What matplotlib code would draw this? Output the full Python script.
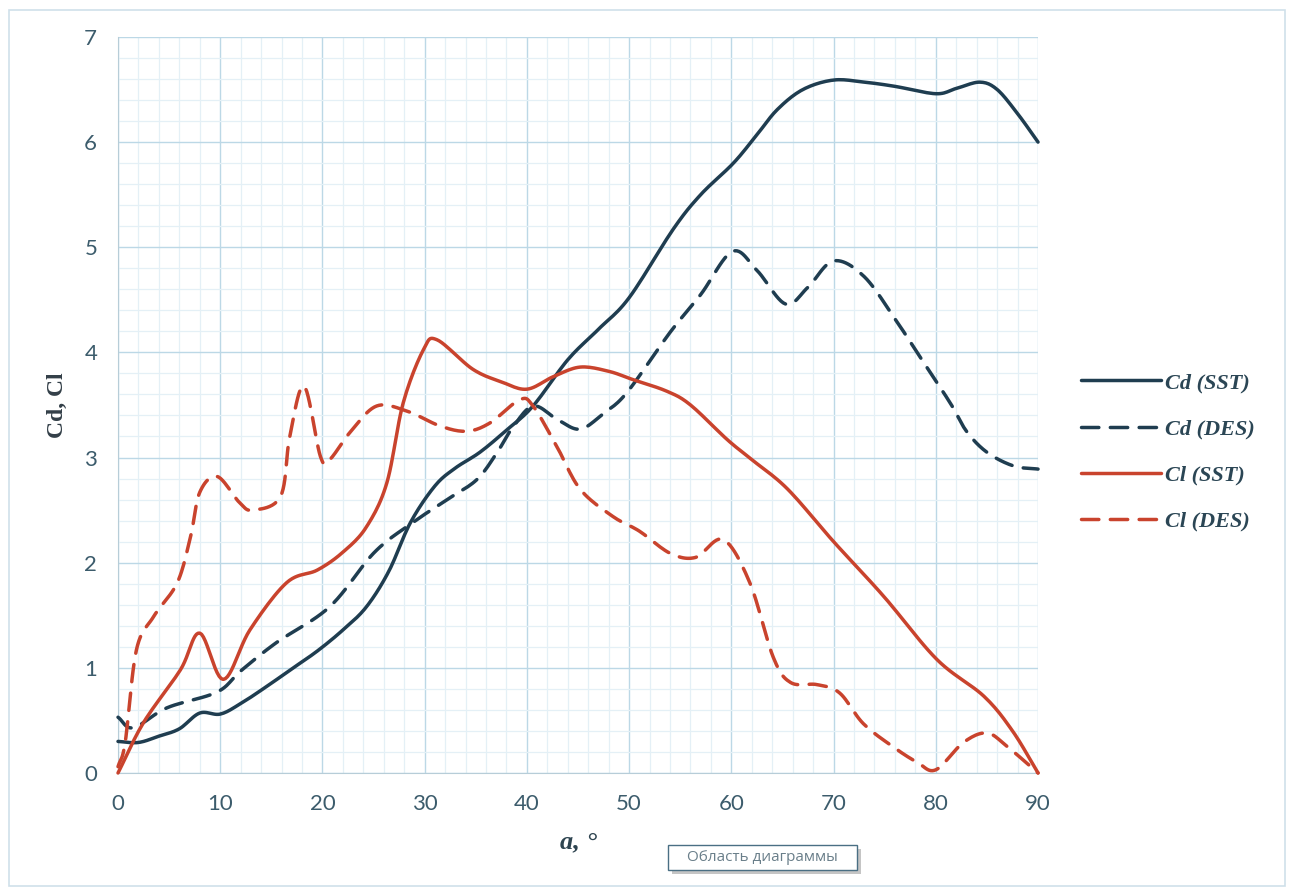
import numpy as np
import matplotlib
matplotlib.use("Agg")
import matplotlib.pyplot as plt
from matplotlib.ticker import MultipleLocator
from matplotlib.patches import Rectangle

# --- data (angle of attack, deg) ---
a_cd_sst = [0, 2, 4, 6, 8, 10, 12, 14.5, 17, 19.5, 22, 24.3, 26.5, 28.6, 31, 33, 35.4, 38, 40.6,
            44, 47, 50, 54.3, 57, 60.2, 62.5, 64.5, 67, 70, 73, 76, 80, 82, 84.3, 86, 88, 90]
cd_sst = [0.30, 0.29, 0.35, 0.42, 0.57, 0.56, 0.66, 0.82, 0.99, 1.16, 1.36, 1.58, 1.92, 2.38, 2.73,
          2.90, 3.05, 3.26, 3.49, 3.93, 4.22, 4.52, 5.17, 5.50, 5.80, 6.07, 6.31, 6.50, 6.59,
          6.57, 6.53, 6.46, 6.51, 6.57, 6.50, 6.27, 6.00]

a_cd_des = [0, 1.5, 4.8, 9.7, 12, 15.5, 20.7, 25, 28.5, 32.2, 35.1, 37.1, 38.5, 40.6, 43, 45.2,
            47.5, 49.8, 54, 57, 60.1, 62.5, 65.3, 67.5, 70, 73, 76.2, 78.5, 81.4, 83, 85, 87.6, 90]
cd_des = [0.53, 0.43, 0.62, 0.77, 0.97, 1.24, 1.58, 2.09, 2.36, 2.60, 2.79, 3.05, 3.27, 3.49, 3.36,
          3.27, 3.42, 3.62, 4.19, 4.55, 4.96, 4.78, 4.46, 4.62, 4.87, 4.72, 4.29, 3.95, 3.52, 3.25,
          3.05, 2.92, 2.89]

a_cl_sst = [0, 2.5, 6.1, 8, 10.3, 12.9, 16.5, 19.5, 22, 24.3, 26.3, 27.9, 29.9, 31.2, 34.7, 37.5,
            40, 42.6, 45.2, 48, 50.4, 53.7, 56, 59.6, 62, 65.5, 70, 74.9, 80.1, 84.7, 87.5, 90]
cl_sst = [0.0, 0.48, 0.98, 1.33, 0.89, 1.36, 1.81, 1.93, 2.10, 2.34, 2.76, 3.52, 4.03, 4.12, 3.84,
          3.72, 3.65, 3.77, 3.86, 3.82, 3.74, 3.63, 3.50, 3.17, 2.98, 2.70, 2.20, 1.68, 1.08,
          0.73, 0.40, 0.0]

a_cl_des = [0, 0.7, 1.8, 3.5, 5.8, 7.1, 8, 9.7, 11.9, 13.2, 15.9, 16.8, 18.2, 19.8, 20.7, 22.7,
            25.3, 28.3, 31.5, 34.1, 36.4, 39.3, 40.6, 42.9, 45.2, 48.4, 51, 54, 56.5, 59.2,
            61.8, 64.1, 65.8, 68.4, 70.6, 72.9, 75.8, 78.2, 80, 82.7, 85, 87, 90]
cl_des = [0.06, 0.29, 1.17, 1.49, 1.81, 2.25, 2.67, 2.82, 2.57, 2.50, 2.63, 3.20, 3.68, 3.01, 2.98,
          3.24, 3.49, 3.44, 3.30, 3.25, 3.33, 3.55, 3.49, 3.11, 2.70, 2.44, 2.30, 2.09, 2.05,
          2.22, 1.81, 1.10, 0.86, 0.84, 0.76, 0.47, 0.25, 0.10, 0.03, 0.29, 0.38, 0.25, 0.0]

labels = ["Cd (SST)", "Cd (DES)", "Cl (SST)", "Cl (DES)"]

NAVY, RED, TXT = "#1f3d50", "#c9432d", "#3c5c6c"


def smooth(x, y, n=12):
    # Catmull-Rom style smoothing like Excel's "smoothed line"
    x, y = np.asarray(x, float), np.asarray(y, float)
    px = np.concatenate([[2 * x[0] - x[1]], x, [2 * x[-1] - x[-2]]])
    py = np.concatenate([[2 * y[0] - y[1]], y, [2 * y[-1] - y[-2]]])
    t = np.linspace(0, 1, n, endpoint=False)
    xs, ys = [], []
    for i in range(1, len(px) - 2):
        for p, out in ((px, xs), (py, ys)):
            p0, p1, p2, p3 = p[i - 1], p[i], p[i + 1], p[i + 2]
            out.append(0.5 * (2 * p1 + (-p0 + p2) * t + (2 * p0 - 5 * p1 + 4 * p2 - p3) * t**2
                              + (-p0 + 3 * p1 - 3 * p2 + p3) * t**3))
    xs.append([x[-1]]); ys.append([y[-1]])
    return np.concatenate(xs), np.concatenate(ys)


fig = plt.figure(figsize=(12.94, 8.9), dpi=100)
ax = fig.add_axes([0.0912, 0.1315, 0.7110, 0.8270])

series = [(a_cd_sst, cd_sst, NAVY, "-"), (a_cd_des, cd_des, NAVY, "--"),
          (a_cl_sst, cl_sst, RED, "-"), (a_cl_des, cl_des, RED, "--")]
for (xa, ya, c, ls), lab in zip(series, labels):
    sx, sy = smooth(xa, ya)
    kw = dict(dashes=(5, 3.3)) if ls == "--" else {}
    ax.plot(sx, sy, color=c, lw=2.5, ls=ls, label=lab, solid_capstyle="round",
            dash_capstyle="round", clip_on=False, zorder=3, **kw)

ax.set_xlim(0, 90)
ax.set_ylim(0, 7)
ax.xaxis.set_major_locator(MultipleLocator(10))
ax.xaxis.set_minor_locator(MultipleLocator(2))
ax.yaxis.set_major_locator(MultipleLocator(1))
ax.yaxis.set_minor_locator(MultipleLocator(0.2))
ax.grid(which="major", color="#bcd8e6", lw=1.0)
ax.grid(which="minor", color="#e4f0f6", lw=0.9)
ax.set_axisbelow(True)
ax.tick_params(which="both", length=0, labelsize=16, labelcolor=TXT)
ax.tick_params(axis="x", pad=15)
ax.tick_params(axis="y", pad=15)
for lbl in ax.get_xticklabels() + ax.get_yticklabels():
    lbl.set_family("Lato")
for s in ("top", "right"):
    ax.spines[s].set_visible(False)
for s in ("left", "bottom"):
    ax.spines[s].set_color("#b7cdd8")

ax.set_ylabel("Cd, Cl", family="Liberation Serif", weight="bold", fontsize=17, color="#333f48",
              labelpad=12)
ax.set_xlabel("a, °", family="Liberation Serif", weight="bold", style="italic", fontsize=19,
              color="#2e4450", labelpad=12)

leg = ax.legend(loc="center left", bbox_to_anchor=(1.025, 0.436), frameon=False, handlelength=3.6,
                labelspacing=1.15, handletextpad=0.2,
                prop=dict(family="Liberation Serif", weight="bold", style="italic", size=16))
for t in leg.get_texts():
    t.set_color("#2b4655")

# outer chart-area frame and the Excel tooltip
fig.patches.append(Rectangle((0.007, 0.005), 0.986, 0.984, transform=fig.transFigure,
                             fill=False, ec="#cfe0ea", lw=1.2))
fig.patches.append(Rectangle((0.5195, 0.0185), 0.146, 0.028, transform=fig.transFigure,
                             fc="#5a5a5a", ec="none", alpha=0.35))
fig.patches.append(Rectangle((0.5165, 0.0225), 0.146, 0.028, transform=fig.transFigure,
                             fc="white", ec="#4a6f84", lw=1.0))
fig.text(0.5895, 0.0365, "Область диаграммы", ha="center", va="center", fontsize=11,
         family="Open Sans", color="#6a7f8a")

fig.savefig("out.png", dpi=100)
